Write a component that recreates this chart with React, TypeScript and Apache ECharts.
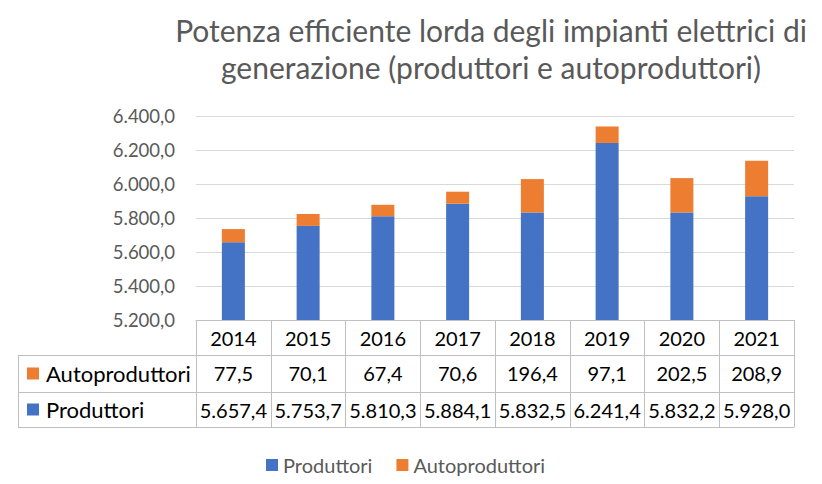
import React, { useEffect, useRef } from "react";
import * as echarts from "echarts";

const years = ["2014", "2015", "2016", "2017", "2018", "2019", "2020", "2021"];
const produttori = [5657.4, 5753.7, 5810.3, 5884.1, 5832.5, 6241.4, 5832.2, 5928.0];
const autoproduttori = [77.5, 70.1, 67.4, 70.6, 196.4, 97.1, 202.5, 208.9];
const titleLines = [
  "Potenza efficiente lorda degli impianti elettrici di",
  "generazione (produttori e autoproduttori)",
];
const seriesNames = ["Produttori", "Autoproduttori"];
const colors = ["#4472C4", "#ED7D31"];

const fmt = (v: number) => {
  const fixed = v.toFixed(1);
  const [i, d] = fixed.split(".");
  const withDots = i.replace(/\B(?=(\d{3})+(?!\d))/g, ".");
  return withDots + "," + d;
};

const FONT = "Lato, 'Noto Sans', sans-serif";
const BORDER = "#BFBFBF";

export default function App() {
  const ref = useRef<HTMLDivElement>(null);
  useEffect(() => {
    document.body.style.margin = "0";
    const chart = echarts.init(ref.current!, null, { renderer: "svg" });
    const gridLeft = 196;
    const gridRight = 794;
    const gridTop = 116;
    const gridBottom = 320;
    const rowH = [35, 37, 35];
    const row1 = gridBottom + rowH[0];
    const row2 = row1 + rowH[1];
    const row3 = row2 + rowH[2];

    const tableAxisBase = {
      type: "category" as const,
      data: years,
      position: "bottom" as const,
      gridIndex: 0,
      axisLine: { show: true, lineStyle: { color: BORDER, width: 1 } },
      axisTick: { show: false },
      axisLabel: {
        interval: 0,
        color: "#000",
        fontSize: 20,
        fontFamily: FONT,
        verticalAlign: "middle" as const,
        margin: 18,
      },
    };

    chart.setOption({
      animation: false,
      grid: {
        left: gridLeft,
        right: 822 - gridRight,
        top: gridTop,
        bottom: 484 - gridBottom,
        containLabel: false,
      },
      legend: {
        data: seriesNames,
        left: 261,
        top: 450,
        icon: "rect",
        itemWidth: 12,
        itemHeight: 12,
        itemGap: 24,
        textStyle: { color: "#595959", fontSize: 20, fontFamily: FONT },
      },
      xAxis: [
        {
          ...tableAxisBase,
          offset: 0,
          axisTick: {
            show: true,
            interval: 0,
            length: row3 - gridBottom,
            lineStyle: { color: BORDER },
          },
        },
        {
          ...tableAxisBase,
          offset: rowH[0],
          axisLabel: {
            ...tableAxisBase.axisLabel,
            formatter: (_v: string, i: number) => fmt(autoproduttori[i]),
          },
        },
        {
          ...tableAxisBase,
          offset: rowH[0] + rowH[1],
          axisLabel: {
            ...tableAxisBase.axisLabel,
            formatter: (_v: string, i: number) => fmt(produttori[i]),
          },
        },
        {
          ...tableAxisBase,
          offset: rowH[0] + rowH[1] + rowH[2],
          axisLabel: { show: false },
        },
      ],
      yAxis: {
        type: "value",
        min: 5200,
        max: 6400,
        interval: 200,
        axisLine: { show: false },
        axisTick: { show: false },
        splitLine: { lineStyle: { color: "#D9D9D9", width: 1 } },
        axisLabel: {
          color: "#595959",
          fontSize: 18.5,
          fontFamily: FONT,
          margin: 21,
          formatter: (v: number) => fmt(v),
        },
      },
      series: [
        {
          name: seriesNames[0],
          type: "bar",
          stack: "tot",
          data: produttori,
          barWidth: 23,
          itemStyle: { color: colors[0] },
        },
        {
          name: seriesNames[1],
          type: "bar",
          stack: "tot",
          data: autoproduttori,
          barWidth: 23,
          itemStyle: { color: colors[1] },
        },
      ],
      graphic: [
        {
          type: "text",
          x: 491,
          y: 30,
          style: {
            text: titleLines[0],
            fill: "#595959",
            font: `30px ${FONT}`,
            textAlign: "center",
            textVerticalAlign: "middle",
          },
        },
        {
          type: "text",
          x: 491,
          y: 67,
          style: {
            text: titleLines[1],
            fill: "#595959",
            font: `30px ${FONT}`,
            textAlign: "center",
            textVerticalAlign: "middle",
          },
        },
        ...[row1, row2, row3].map((y) => ({
          type: "line",
          shape: { x1: 18, y1: y + 0.5, x2: gridLeft, y2: y + 0.5 },
          style: { stroke: BORDER, lineWidth: 1 },
        })),
        {
          type: "line",
          shape: { x1: 18.5, y1: row1, x2: 18.5, y2: row3 },
          style: { stroke: BORDER, lineWidth: 1 },
        },
        ...[seriesNames[1], seriesNames[0]].map((name, k) => {
          const cy = (k === 0 ? (row1 + row2) / 2 : (row2 + row3) / 2);
          const color = name === seriesNames[0] ? colors[0] : colors[1];
          return {
            type: "group",
            children: [
              {
                type: "rect",
                shape: { x: 27, y: cy - 6, width: 12, height: 12 },
                style: { fill: color },
              },
              {
                type: "text",
                x: 46,
                y: cy,
                style: {
                  text: name,
                  fill: "#000",
                  font: `22px ${FONT}`,
                  textVerticalAlign: "middle",
                },
              },
            ],
          };
        }),
      ],
    });
    return () => chart.dispose();
  }, []);
  return (
    <div
      ref={ref}
      style={{ width: 822, height: 484, position: "absolute", left: 0, top: 0, background: "#fff" }}
    />
  );
}
